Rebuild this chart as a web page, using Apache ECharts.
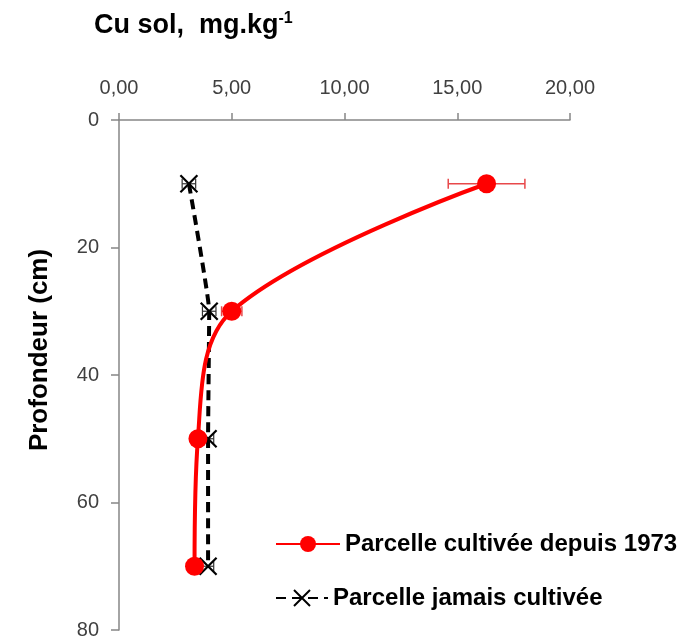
<!DOCTYPE html>
<html>
<head>
<meta charset="utf-8">
<script src="https://cdn.jsdelivr.net/npm/echarts@6/dist/echarts.min.js"></script>
<style>
  html, body { margin: 0; padding: 0; background: #fff; }
  #chart { width: 690px; height: 640px; }
</style>
</head>
<body>
<div id="chart"></div>
<script>
// Soil copper profile: concentration (mg/kg) against depth (cm)
const depths = [10, 30, 50, 70];
const cultivated = [16.3, 5.0, 3.5, 3.35];
const cultivatedErr = [1.7, 0.45, 0.2, 0.15];
const neverCultivated = [3.1, 4.0, 3.95, 3.95];
const neverCultivatedErr = [0.3, 0.3, 0.25, 0.25];
const xTicks = [0, 5, 10, 15, 20];
const yTicks = [0, 20, 40, 60, 80];

const seriesNames = ['Parcelle cultivée depuis 1973', 'Parcelle jamais cultivée'];
const FONT = '"Liberation Sans", "DejaVu Sans", sans-serif';

const pairs = (vals) => vals.map((v, i) => [v, depths[i]]);
const errRows = (vals, errs) => vals.map((v, i) => [v - errs[i], v + errs[i], depths[i]]);

function errorBar(color, width) {
  return function (params, api) {
    const lo = api.coord([api.value(0), api.value(2)]);
    const hi = api.coord([api.value(1), api.value(2)]);
    const cap = 5;
    const style = { stroke: color, lineWidth: width, fill: null };
    return {
      type: 'group',
      children: [
        { type: 'line', shape: { x1: lo[0], y1: lo[1], x2: hi[0], y2: hi[1] }, style },
        { type: 'line', shape: { x1: lo[0], y1: lo[1] - cap, x2: lo[0], y2: lo[1] + cap }, style },
        { type: 'line', shape: { x1: hi[0], y1: hi[1] - cap, x2: hi[0], y2: hi[1] + cap }, style }
      ]
    };
  };
}

const legendText = { fontFamily: FONT, fontSize: 24, fontWeight: 'bold', color: '#000' };

const chart = echarts.init(document.getElementById('chart'), null, { renderer: 'canvas' });

chart.setOption({
  animation: false,
  backgroundColor: '#ffffff',
  grid: { left: 119, right: 120, top: 120, bottom: 8, containLabel: false },
  graphic: [
    {
      type: 'text', left: 94, top: 11,
      style: {
        text: '{a|Cu sol,  mg.kg}{b|-1}',
        rich: {
          a: { fontFamily: FONT, fontSize: 27, fontWeight: 'bold', fill: '#000' },
          b: { fontFamily: FONT, fontSize: 16, fontWeight: 'bold', fill: '#000', padding: [0, 0, 14, 0] }
        }
      }
    },
    {
      type: 'text', x: 40, y: 350, rotation: Math.PI / 2,
      style: {
        text: 'Profondeur (cm)', fontFamily: FONT, fontSize: 26, fontWeight: 'bold',
        fill: '#000', align: 'center', verticalAlign: 'middle'
      }
    }
  ],
  legend: [
    {
      left: 270, top: 527, itemWidth: 64, itemHeight: 20, itemGap: 6,
      data: [seriesNames[0]], textStyle: legendText
    },
    {
      left: 270, top: 581, itemWidth: 52, itemHeight: 20, itemGap: 6,
      data: [seriesNames[1]], textStyle: legendText
    }
  ],
  xAxis: {
    type: 'value', position: 'top', min: 0, max: 20, interval: 5,
    axisLine: { show: true, lineStyle: { color: '#868686', width: 1.5 } },
    axisTick: { show: true, inside: false, length: 7, lineStyle: { color: '#868686', width: 1.5 } },
    axisLabel: {
      margin: 22, fontFamily: FONT, fontSize: 20, color: '#404040',
      formatter: (v) => xTicks.includes(v) ? v.toFixed(2).replace('.', ',') : ''
    },
    splitLine: { show: false }
  },
  yAxis: {
    type: 'value', inverse: true, min: 0, max: 80, interval: 20,
    axisLine: { show: true, onZero: false, lineStyle: { color: '#868686', width: 1.5 } },
    axisTick: { show: true, length: 8, lineStyle: { color: '#868686', width: 1.5 } },
    axisLabel: {
      margin: 20, fontFamily: FONT, fontSize: 20, color: '#404040',
      formatter: (v) => yTicks.includes(v) ? String(v) : ''
    },
    splitLine: { show: false }
  },
  series: [
    {
      type: 'custom', name: 'err-cultivated', silent: true, z: 1,
      renderItem: errorBar('#e8484a', 1.5),
      encode: { x: [0, 1], y: 2 },
      data: errRows(cultivated, cultivatedErr)
    },
    {
      type: 'custom', name: 'err-never', silent: true, z: 1,
      renderItem: errorBar('#333333', 1.2),
      encode: { x: [0, 1], y: 2 },
      data: errRows(neverCultivated, neverCultivatedErr)
    },
    {
      type: 'line', name: seriesNames[1], z: 3,
      data: pairs(neverCultivated),
      smooth: 0.1,
      symbol: 'path://M0,0L10,10M10,0L0,10', symbolSize: 17,
      itemStyle: { color: '#000', borderColor: '#000', borderWidth: 2.2 },
      lineStyle: { color: '#000', width: 4, type: [10, 6] }
    },
    {
      type: 'line', name: seriesNames[0], z: 4,
      data: pairs(cultivated),
      smooth: 0.35,
      symbol: 'circle', symbolSize: 19,
      itemStyle: { color: '#ff0000', borderWidth: 0 },
      lineStyle: { color: '#ff0000', width: 4 }
    }
  ]
});
</script>
</body>
</html>
